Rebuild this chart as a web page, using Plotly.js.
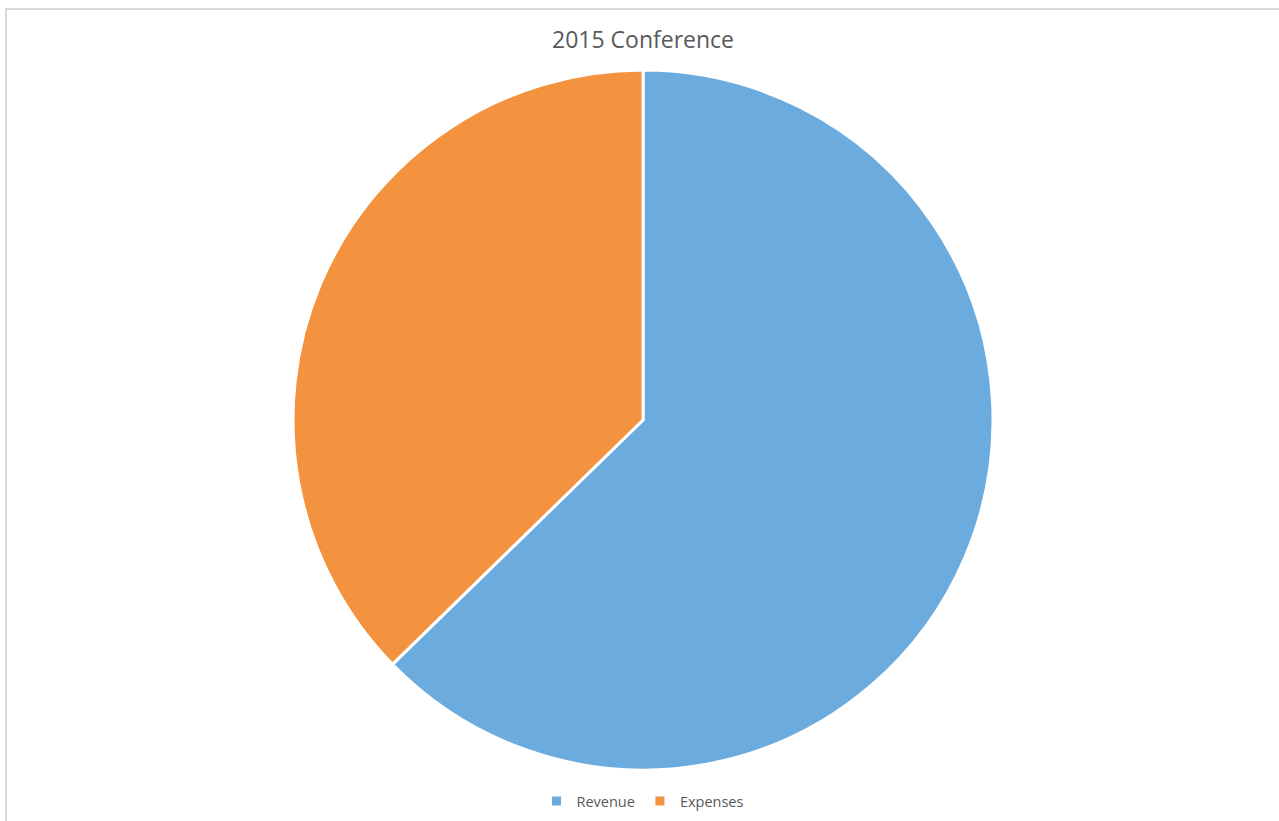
<!DOCTYPE html>
<html>
<head>
<meta charset="utf-8">
<script src="https://cdn.plot.ly/plotly-3.0.1.min.js"></script>
<style>
  html, body { margin: 0; padding: 0; background: #ffffff; }
  #wrap { position: relative; width: 1279px; height: 821px; overflow: hidden; }
  #chart { position: absolute; left: 0; top: 0; width: 1279px; height: 821px; }
  #frame { position: absolute; left: 5px; top: 8px; width: 1300px; height: 900px;
           border-left: 2px solid #D9D9D9; border-top: 2px solid #D9D9D9; pointer-events: none; }
</style>
</head>
<body>
<div id="wrap">
  <div id="chart"></div>
  <div id="frame"></div>
</div>
<script>
const categories = ["Revenue", "Expenses"];
const values = [62.7, 37.3];
const colors = ["#6CABDD", "#F39340"];

const data = [{
  type: "pie",
  labels: categories,
  values: values,
  sort: false,
  direction: "clockwise",
  rotation: 0,
  textinfo: "none",
  hoverinfo: "label+value+percent",
  marker: { colors: colors, line: { color: "#FFFFFF", width: 3 } },
  domain: { x: [0, 1], y: [0, 1] }
}];

const layout = {
  width: 1279,
  height: 821,
  margin: { l: 7, r: 0, t: 70, b: 51 },
  paper_bgcolor: "#FFFFFF",
  font: { family: "Open Sans, sans-serif", color: "#595959" },
  title: {
    text: "2015 Conference",
    font: { family: "Open Sans, sans-serif", size: 23, color: "#595959" },
    x: 0.5, xanchor: "center", xref: "paper",
    y: 1 - 40 / 821, yanchor: "middle", yref: "container"
  },
  showlegend: true,
  legend: {
    orientation: "h",
    x: 0.5, xanchor: "center",
    y: -31 / 700, yanchor: "middle",
    font: { family: "Open Sans, sans-serif", size: 14.5, color: "#595959" },
    itemwidth: 30
  }
};

Plotly.newPlot("chart", data, layout, { displayModeBar: false, staticPlot: true });
</script>
</body>
</html>
